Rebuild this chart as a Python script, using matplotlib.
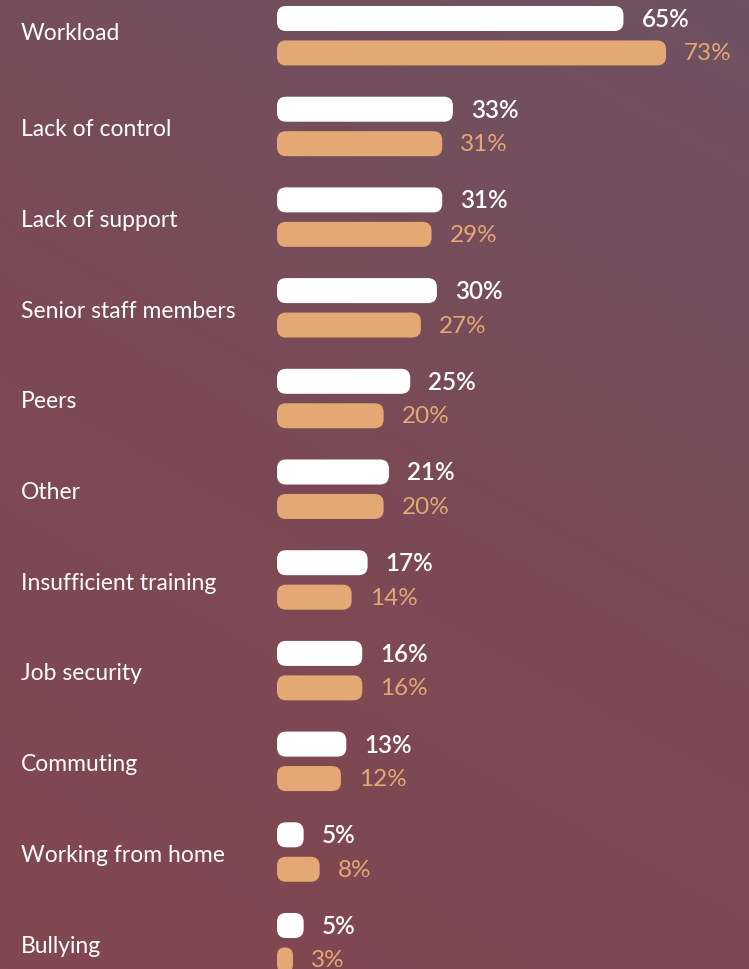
import matplotlib
matplotlib.use("Agg")
import matplotlib.pyplot as plt
import numpy as np
from matplotlib.patches import FancyBboxPatch
from matplotlib.colors import LinearSegmentedColormap

# Sources of stress, two survey series (percent)
categories = ["Workload", "Lack of control", "Lack of support", "Senior staff members",
              "Peers", "Other", "Insufficient training", "Job security",
              "Commuting", "Working from home", "Bullying"]
series_a = [65, 33, 31, 30, 25, 21, 17, 16, 13, 5, 5]
series_b = [73, 31, 29, 27, 20, 20, 14, 16, 12, 8, 3]

WHITE = "#ffffff"
ORANGE = "#e4a874"
FONT = ["Lato", "DejaVu Sans"]

W, H, DPI = 749, 970, 100
fig = plt.figure(figsize=(W / DPI, H / DPI), dpi=DPI)

# Gradient background: mauve at the top right, warmer red-brown towards bottom left
bg = fig.add_axes([0, 0, 1, 1], zorder=0)
bg.axis("off")
yy, xx = np.mgrid[0:1:200j, 0:1:200j]
t = np.clip(xx * 0.3 + yy * 0.7, 0, 1)  # origin lower: 0 = bottom-left, 1 = top-right
cmap = LinearSegmentedColormap.from_list("bg", ["#82474f", "#7b4a56", "#6e5262"])
bg.imshow(t, cmap=cmap, origin="lower", extent=[0, 1, 0, 1], aspect="auto")
bg.set_xlim(0, 1)
bg.set_ylim(0, 1)

ax = fig.add_axes([0, 0, 1, 1], zorder=1)
ax.set_facecolor("none")
ax.axis("off")

px_per_pct = 5.33
x0_px = 277
group_px = 90.7
ax.set_xlim(-x0_px / px_per_pct, (W - x0_px) / px_per_pct)
y_top = -0.19 - 19.5 / group_px
ax.set_ylim(y_top + H / group_px, y_top)

offset = 0.19
bar_h = 25 / group_px
aspect = (1 / group_px) / (1 / px_per_pct)
radius_px = 9

for i, (cat, a, b) in enumerate(zip(categories, series_a, series_b)):
    for val, yc, col, weight in ((a, i - offset, WHITE, "semibold"),
                                 (b, i + offset, ORANGE, "normal")):
        w_px = val * px_per_pct
        r = min(radius_px, w_px / 2, 12.5) / px_per_pct
        patch = FancyBboxPatch((0, yc - bar_h / 2), val, bar_h,
                               boxstyle=f"round,pad=0,rounding_size={r}",
                               mutation_aspect=aspect, facecolor=col,
                               edgecolor="none")
        ax.add_patch(patch)
        ax.text(val + 18 / px_per_pct, yc, f"{val}%", color=col, fontsize=17.5,
                fontweight=weight, family=FONT, va="center", ha="left")
    label_y = i - 0.04 if i == 0 else i + 0.025
    ax.text(-256 / px_per_pct, label_y, cat, color=WHITE, fontsize=16.5,
            family=FONT, va="center", ha="left")

fig.savefig("out.png", dpi=DPI)
